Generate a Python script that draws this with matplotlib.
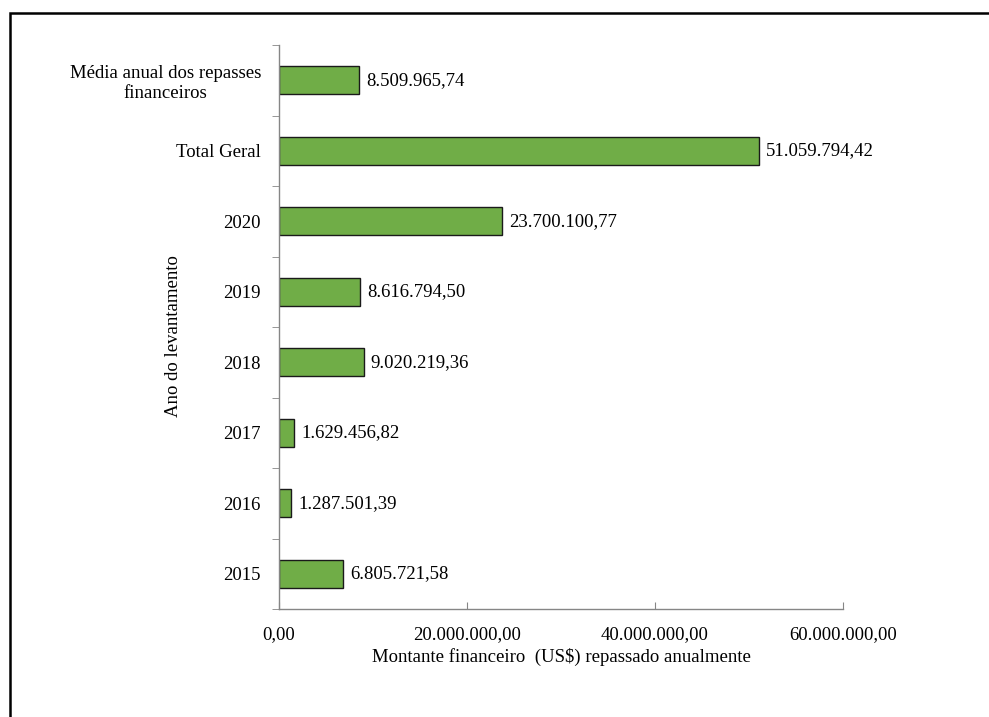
import matplotlib
matplotlib.use('Agg')
from matplotlib import pyplot as plt
from matplotlib.patches import Rectangle
import numpy as np

# categories from bottom to top
categories = ['2015', '2016', '2017', '2018', '2019', '2020', 'Total Geral',
              'Média anual dos repasses\nfinanceiros']
values = [6805721.58, 1287501.39, 1629456.82, 9020219.36, 8616794.50,
          23700100.77, 51059794.42, 8509965.74]
xticks = [0, 20000000, 40000000, 60000000]


def br_format(v):
    # 1234567.89 -> 1.234.567,89
    s = '{:,.2f}'.format(v)
    return s.replace(',', 'X').replace('.', ',').replace('X', '.')


plt.rcParams['font.family'] = ['Liberation Serif', 'DejaVu Serif']
plt.rcParams['font.size'] = 13.5

fig = plt.figure(figsize=(9.89, 7.17), dpi=100)
ax = fig.add_axes([279 / 989, 1 - 609 / 717, (843 - 279) / 989, (609 - 45) / 717])

pos = np.arange(len(categories))
ax.barh(pos, values, height=0.4, color='#70AD47', edgecolor='#1a1a1a', linewidth=1)

for p, v in zip(pos, values):
    ax.annotate(br_format(v), (v, p), xytext=(5, 0), textcoords='offset points',
                va='center', ha='left', fontsize=13.5)

ax.set_xlim(0, 60000000)
ax.set_ylim(-0.5, len(categories) - 0.5)

ax.set_xticks(xticks)
ax.set_xticklabels([br_format(t) for t in xticks])
ax.tick_params(axis='x', direction='in', length=5, color='#868686', pad=12)

ax.set_yticks(pos)
ax.set_yticklabels(categories, multialignment='center')
ax.tick_params(axis='y', which='major', length=0, pad=13)
ax.set_yticks(np.arange(len(categories) + 1) - 0.5, minor=True)
ax.tick_params(axis='y', which='minor', direction='out', length=5, color='#868686')

for side in ['top', 'right']:
    ax.spines[side].set_visible(False)
for side in ['left', 'bottom']:
    ax.spines[side].set_color('#868686')
    ax.spines[side].set_linewidth(1)

ax.set_xlabel('Montante financeiro  (US$) repassado anualmente', labelpad=4)
ax.set_ylabel('Ano do levantamento', va='center')
ax.yaxis.set_label_coords((174 - 279) / 564, 1 - (336 - 45) / 564)

# outer frame, right and bottom edges fall off the canvas
fig.patches.append(Rectangle((10 / 989, -0.05), 1.0, 1.05 - 13 / 717,
                             transform=fig.transFigure, fill=False,
                             edgecolor='black', linewidth=1.8))

fig.savefig('out.png', dpi=100)
